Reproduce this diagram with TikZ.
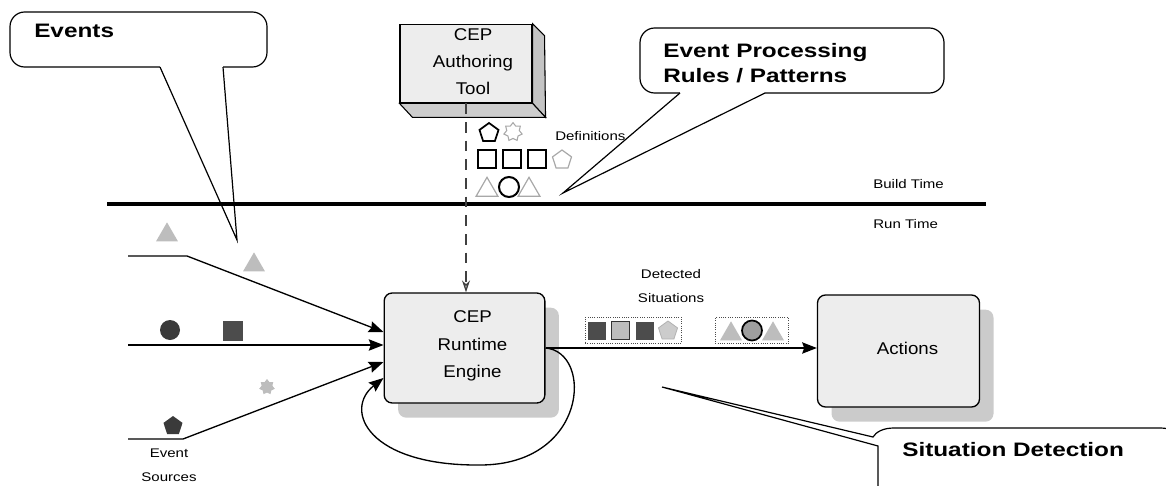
\documentclass[tikz,border=0pt]{standalone}
\usepackage{fontspec}
\setmainfont{Liberation Sans}
\newfontfamily\regfont[FakeStretch=1.1]{Liberation Sans}
\newfontfamily\smallfont[FakeStretch=1.2]{Liberation Sans}
\newfontfamily\calloutfont[FakeStretch=1.25]{Liberation Sans Bold}
\usetikzlibrary{shapes.geometric,arrows.meta,calc,shadows}

\definecolor{boxfill}{HTML}{EDEDED}
\definecolor{shade}{HTML}{CBCBCB}
\definecolor{sidefill}{HTML}{C4C4C4}
\definecolor{lightshape}{HTML}{BDBDBD}
\definecolor{outlinegray}{HTML}{A8A8A8}
\definecolor{darkshape}{HTML}{3A3A3A}
\definecolor{midshape}{HTML}{4C4C4C}

\begin{document}
\begin{tikzpicture}[x=0.75pt,y=-0.75pt,
  regtext/.style={font=\regfont\fontsize{12.75pt}{20.5pt}\selectfont, align=center, inner sep=0pt},
  smalltext/.style={font=\smallfont\fontsize{9.4pt}{15pt}\selectfont, align=center, inner sep=0pt},
  bigtext/.style={font=\calloutfont\fontsize{14.6pt}{18.8pt}\selectfont, align=left, inner sep=0pt},
  callout/.style={draw=black, line width=0.9pt, fill=white},
  rbox/.style={draw=black, line width=1pt, fill=boxfill, rounded corners=6pt,
    inner sep=0pt,
    drop shadow={shadow xshift=10.5pt, shadow yshift=-11pt, fill=shade, opacity=1}},
  flow/.style={line width=1pt, -{Stealth[length=11pt,width=8.5pt,inset=1.5pt]}},
  tri/.style={regular polygon, regular polygon sides=3, minimum size=19pt, inner sep=0pt},
  pent/.style={regular polygon, regular polygon sides=5, minimum size=15pt, inner sep=0pt},
  sq/.style={rectangle, minimum size=13.5pt, inner sep=0pt},
  dot/.style={circle, minimum size=15pt, inner sep=0pt},
  starshape/.style={star, star points=7, star point ratio=1.45, minimum size=14pt, inner sep=0pt}
]
\useasboundingbox (0,0) rectangle (1166,485);

% ---------- callout: Events ----------
\draw[callout, rounded corners=11pt] (10,12) rectangle (267,67);
\fill[white] (160.5,63) -- (222.5,63) -- (223,67) -- (237,240) -- (160,67) -- cycle;
\draw[line width=0.9pt] (160,67) -- (237,240) -- (223,67);
\node[bigtext, anchor=west] (evlabel) at (34,31) {Events};

% ---------- callout: rules / patterns ----------
\draw[callout, rounded corners=11pt] (640,28) rectangle (944,93);
\fill[white] (680.5,89) -- (764.5,89) -- (765,93) -- (563,193) -- (680,93) -- cycle;
\draw[line width=0.9pt] (680,93) -- (563,193) -- (765,93);
\node[bigtext, anchor=west] (ruleslabel) at (663,63) {Event Processing\\Rules / Patterns};

% ---------- callout: situation detection ----------
\draw[callout] (878,446) -- (878,500) -- (1180,500) -- (1180,446)
  .. controls (1180,432) and (1172,428) .. (1160,428) -- (894,428)
  .. controls (883,428) and (876,432) .. (873,437) -- (662,387) -- cycle;
\node[bigtext, anchor=west] (sitlabel) at (902,450) {Situation Detection};

% ---------- build time / run time separator ----------
\coordinate (sepL) at (107,204);
\coordinate (sepR) at (986,204);
\draw[line width=2.5pt] (sepL) -- (sepR);
\node[smalltext, anchor=west] (build) at (873,184) {Build Time};
\node[smalltext, anchor=west] (run) at (873,224) {Run Time};

% ---------- authoring tool (3D block) ----------
\node[draw=black, line width=0.8pt, fill=boxfill, minimum width=99pt, minimum height=59pt,
  inner sep=0pt] (tool) at (466,63.5) {};
\draw[line width=0.8pt, fill=sidefill] (tool.north east) -- ($(tool.north east)+(12,12)$)
  -- ($(tool.south east)+(13,14)$) -- (tool.south east) -- cycle;
\draw[line width=0.8pt, fill=sidefill!85!white] (tool.south west) -- (tool.south east)
  -- ($(tool.south east)+(13,14)$) -- ($(tool.south west)+(13,14)$) -- cycle;
\node[regtext] (toollabel) at ($(tool.center)+(7,-2)$) {CEP\\Authoring\\Tool};

% ---------- definitions ----------
\node[pent, draw=black, line width=1.3pt] (d1) at (489,133) {};
\node[starshape, draw=outlinegray, line width=0.8pt] (d2) at (513,132) {};
\node[sq, draw=black, line width=1.2pt] (d3) at (487,159) {};
\node[sq, draw=black, line width=1.2pt] (d4) at (512,159) {};
\node[sq, draw=black, line width=1.2pt] (d5) at (537,159) {};
\node[pent, draw=outlinegray, line width=0.9pt] (d6) at (562,160) {};
\node[tri, draw=outlinegray, line width=0.9pt] (d7) at (487,190) {};
\node[dot, draw=black, line width=1.5pt] (d8) at (509,187) {};
\node[tri, draw=outlinegray, line width=0.9pt] (d9) at (529,190) {};
\node[smalltext, anchor=west] (defs) at (555,136) {Definitions};

% ---------- runtime engine and actions ----------
\node[rbox, minimum width=120.5pt, minimum height=82.5pt] (engine) at (464.5,348) {};
\node[regtext] (enginelabel) at ($(engine.center)+(8,-2)$) {CEP\\Runtime\\Engine};
\node[rbox, minimum width=121.5pt, minimum height=84pt] (actions) at (898.5,351) {};
\node[regtext] (actionslabel) at ($(actions.center)+(9,-3)$) {Actions};

% dashed definition feed
\draw[dashed, dash pattern=on 8pt off 6pt, line width=0.9pt, draw=black!75,
  -{Stealth[length=9pt,width=6pt,fill=black!35]}] (tool.south) -- (tool.south |- engine.north);

% ---------- event sources ----------
\coordinate (src1) at (128,256);
\coordinate (src1b) at (187,256);
\coordinate (src2) at (128,345);
\coordinate (src3) at (128,439);
\coordinate (src3b) at (183,439);
\draw[flow] (src1) -- (src1b) -- ($(engine.west)+(0,-16)$);
\draw[flow] (src2) -- ($(engine.west)+(0,-3)$);
\draw[flow] (src3) -- (src3b) -- ($(engine.west)+(0,14)$);

% feedback loop
\draw[flow] (engine.east) .. controls +(48,4) and (588,465) .. (480,465)
  .. controls (368,466) and (343,410) .. ($(engine.west)+(0,30)$);

% output to actions
\draw[flow] (engine.east) -- (engine.east -| actions.west);

% events travelling in
\node[tri, fill=lightshape] (e1) at (167,235) {};
\node[tri, fill=lightshape] (e2) at (254,265) {};
\node[dot, fill=darkshape] (e3) at (170,330) {};
\node[sq, minimum size=14.5pt, fill=midshape] (e4) at (233,331) {};
\node[starshape, fill=lightshape, minimum size=12pt] (e5) at (267,387) {};
\node[pent, fill=darkshape] (e6) at (173,426) {};
\node[smalltext] (esrc) at (169,465) {Event\\[3pt]Sources};

% ---------- detected situations ----------
\node[smalltext] (detlabel) at (671,286) {Detected\\[3pt]Situations};
\node[draw=black!70, densely dotted, line width=0.7pt, minimum width=72.5pt, minimum height=19pt,
  inner sep=0pt, fill=white] (sit1) at (633.5,330.5) {};
\node[sq, fill=midshape] (s1) at (597,330.5) {};
\node[sq, fill=lightshape, draw=black!80, line width=1pt] (s2) at (620.5,330.5) {};
\node[sq, fill=midshape] (s3) at (644.5,330.5) {};
\node[pent, fill=black!20, draw=black!30, line width=0.6pt] (s4) at (668,331) {};
\node[draw=black!70, densely dotted, line width=0.7pt, minimum width=55pt, minimum height=19pt,
  inner sep=0pt, fill=white] (sit2) at (752,330.5) {};
\node[tri, fill=lightshape] (s5) at (731,334) {};
\node[dot, fill=black!38, draw=black, line width=1.3pt] (s6) at (752,330.5) {};
\node[tri, fill=lightshape] (s7) at (773,334) {};

\end{tikzpicture}
\end{document}
